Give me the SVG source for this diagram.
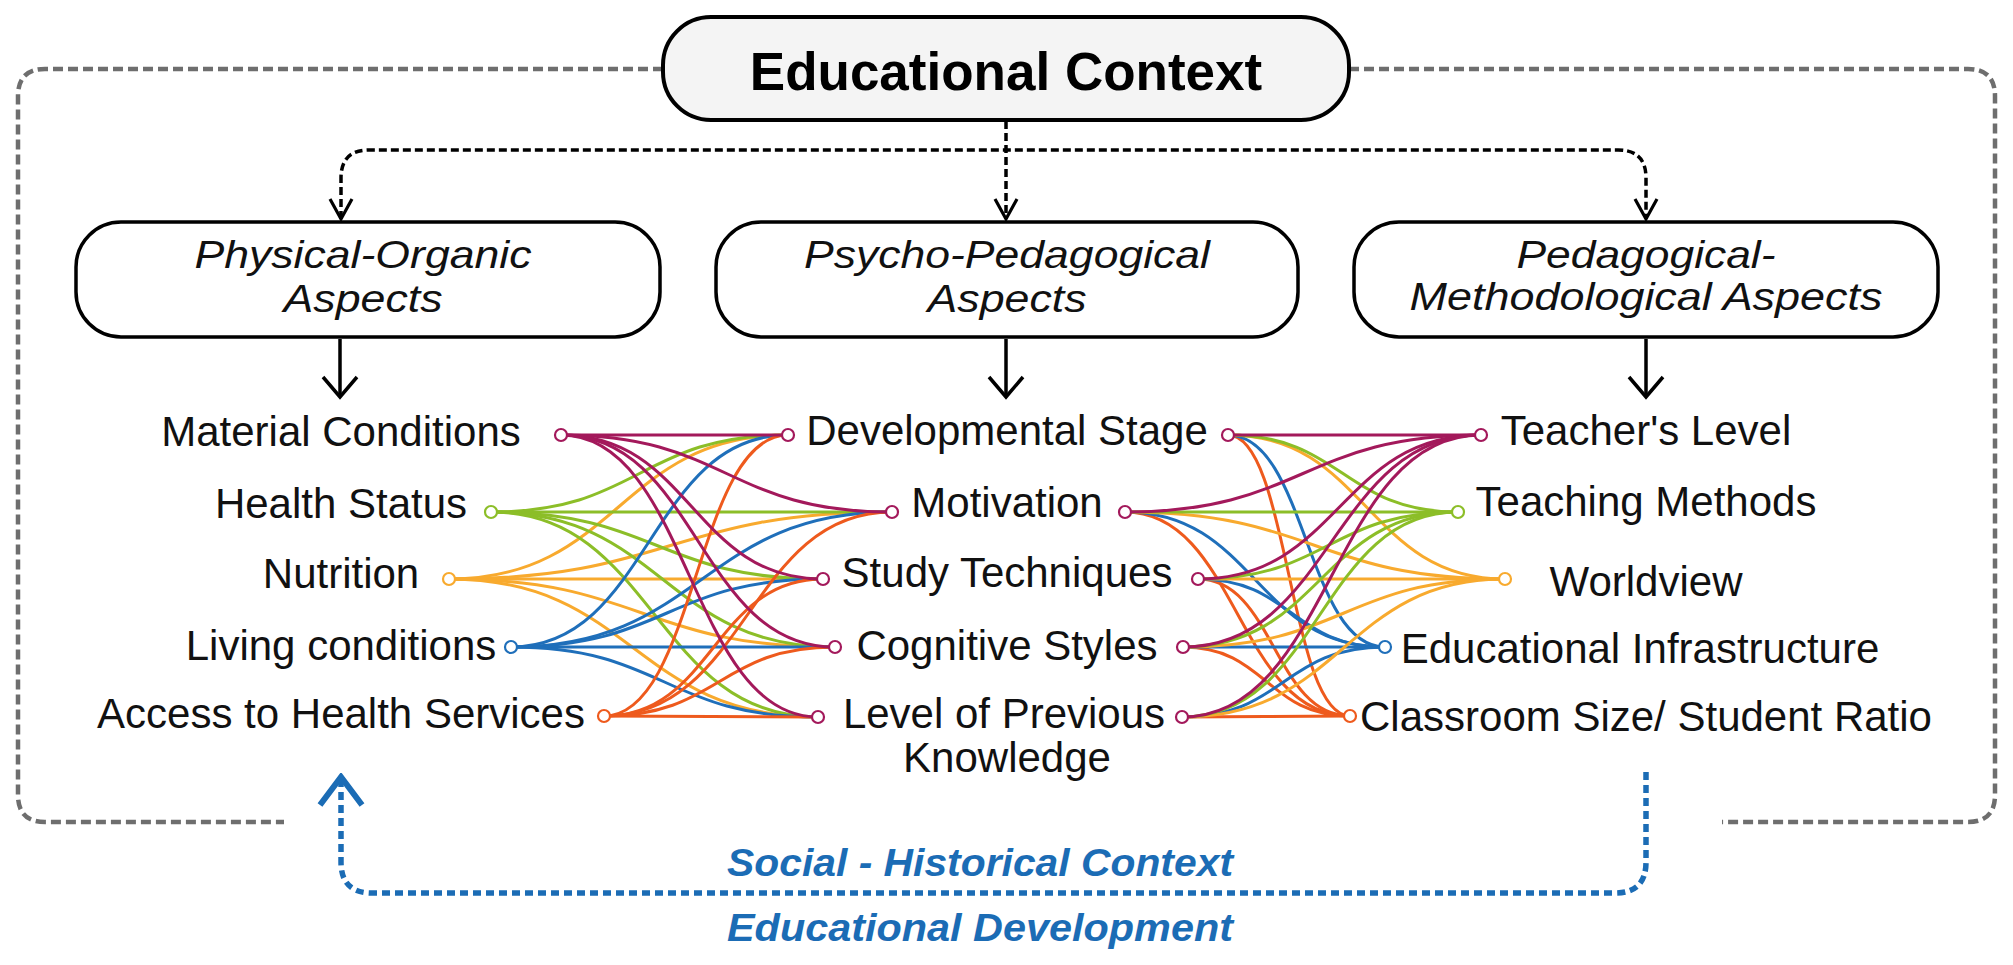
<svg xmlns="http://www.w3.org/2000/svg" width="2013" height="965" viewBox="0 0 2013 965">
<defs>
<style>
.t{font-family:"Liberation Sans",Arial,sans-serif;font-size:42px;fill:#111;text-anchor:middle}
.bx{fill:#fff;stroke:#000;stroke-width:3.5}
.it{font-family:"Liberation Sans",Arial,sans-serif;font-style:italic;font-size:39px;fill:#111;text-anchor:middle}
.bl{font-family:"Liberation Sans",Arial,sans-serif;font-style:italic;font-weight:bold;font-size:38px;fill:#1b6cb5;text-anchor:middle}
.frame{fill:none;stroke:#6e6e6e;stroke-width:4.5;stroke-dasharray:10 5}
.dot{fill:none;stroke:#000;stroke-width:3.5;stroke-dasharray:8 4}
.sol{fill:none;stroke:#000;stroke-width:3.5}
.blu{fill:none;stroke:#1b6cb5;stroke-width:5.5;stroke-dasharray:8 5}
.c path{fill:none;stroke-width:3}
.mg{stroke:#a3195b}.gr{stroke:#8cbe28}.or{stroke:#f8aa2e}.bu{stroke:#1f6fba}.rd{stroke:#ee5a1d}
.n{fill:#fff;stroke-width:2.2}
</style>
<marker id="ah" markerUnits="userSpaceOnUse" viewBox="-24 -20 28 40" markerWidth="28" markerHeight="40" refX="0" refY="0" orient="auto">
<path d="M-20,-17 L0,0 L-20,17" fill="none" stroke="#000" stroke-width="3.5"/>
</marker>
<marker id="ad" markerUnits="userSpaceOnUse" viewBox="-24 -14 28 28" markerWidth="28" markerHeight="28" refX="0" refY="0" orient="auto-start-reverse">
<path d="M-20,-11 L0,0 L-20,11" fill="none" stroke="#000" stroke-width="3.2"/>
</marker>
<marker id="ab" markerUnits="userSpaceOnUse" viewBox="-34 -28 38 56" markerWidth="38" markerHeight="56" refX="0" refY="0" orient="auto">
<path d="M-28,-21 L0,0 L-28,21" fill="none" stroke="#1b6cb5" stroke-width="6"/>
</marker>
</defs>

<g id="connectors">
<path class="frame" d="M663,69 H45 Q18,69 18,96 V795 Q18,822 45,822 H284"/>
<path class="frame" d="M1349,69 H1968 Q1995,69 1995,96 V795 Q1995,822 1968,822 H1722"/>
<path class="dot" d="M1006,121 V219" marker-end="url(#ad)"/>
<path class="dot" d="M341,219 V178 Q341,150 369,150 H1618 Q1646,150 1646,178 V219" marker-start="url(#ad)" marker-end="url(#ad)"/>
<path class="sol" d="M340,339 V397" marker-end="url(#ah)"/>
<path class="sol" d="M1006,339 V397" marker-end="url(#ah)"/>
<path class="sol" d="M1646,339 V397" marker-end="url(#ah)"/>
<path class="blu" d="M1646,772 V862 Q1646,893 1615,893 H372 Q341,893 341,862 V777" marker-end="url(#ab)"/>

<g class="c">
<path class="or" d="M449,579 C618.5,579 618.5,435 788,435"/>
<path class="or" d="M449,579 C670.5,579 670.5,512 892,512"/>
<path class="or" d="M449,579 C636,579 636,579 823,579"/>
<path class="or" d="M449,579 C642,579 642,647 835,647"/>
<path class="or" d="M449,579 C633.5,579 633.5,717 818,717"/>
<path class="gr" d="M491,512 C639.5,512 639.5,435 788,435"/>
<path class="gr" d="M491,512 C691.5,512 691.5,512 892,512"/>
<path class="gr" d="M491,512 C657,512 657,579 823,579"/>
<path class="gr" d="M491,512 C663,512 663,647 835,647"/>
<path class="gr" d="M491,512 C654.5,512 654.5,717 818,717"/>
<path class="bu" d="M511,647 C649.5,647 649.5,435 788,435"/>
<path class="bu" d="M511,647 C701.5,647 701.5,512 892,512"/>
<path class="bu" d="M511,647 C667,647 667,579 823,579"/>
<path class="bu" d="M511,647 C673,647 673,647 835,647"/>
<path class="bu" d="M511,647 C664.5,647 664.5,717 818,717"/>
<path class="rd" d="M604,716 C696,716 696,435 788,435"/>
<path class="rd" d="M604,716 C748,716 748,512 892,512"/>
<path class="rd" d="M604,716 C713.5,716 713.5,579 823,579"/>
<path class="rd" d="M604,716 C719.5,716 719.5,647 835,647"/>
<path class="rd" d="M604,716 C711,716 711,717 818,717"/>
<path class="mg" d="M561,435 C674.5,435 674.5,435 788,435"/>
<path class="mg" d="M561,435 C726.5,435 726.5,512 892,512"/>
<path class="mg" d="M561,435 C692,435 692,579 823,579"/>
<path class="mg" d="M561,435 C698,435 698,647 835,647"/>
<path class="mg" d="M561,435 C689.5,435 689.5,717 818,717"/>

<path class="rd" d="M1228,435 C1289,435 1289,716 1350,716"/>
<path class="rd" d="M1125,512 C1237.5,512 1237.5,716 1350,716"/>
<path class="rd" d="M1198,579 C1274,579 1274,716 1350,716"/>
<path class="rd" d="M1183,647 C1266.5,647 1266.5,716 1350,716"/>
<path class="rd" d="M1182,717 C1266,717 1266,716 1350,716"/>
<path class="bu" d="M1228,435 C1306.5,435 1306.5,647 1385,647"/>
<path class="bu" d="M1125,512 C1255,512 1255,647 1385,647"/>
<path class="bu" d="M1198,579 C1291.5,579 1291.5,647 1385,647"/>
<path class="bu" d="M1183,647 C1284,647 1284,647 1385,647"/>
<path class="bu" d="M1182,717 C1283.5,717 1283.5,647 1385,647"/>
<path class="or" d="M1228,435 C1366.5,435 1366.5,579 1505,579"/>
<path class="or" d="M1125,512 C1315,512 1315,579 1505,579"/>
<path class="or" d="M1198,579 C1351.5,579 1351.5,579 1505,579"/>
<path class="or" d="M1183,647 C1344,647 1344,579 1505,579"/>
<path class="or" d="M1182,717 C1343.5,717 1343.5,579 1505,579"/>
<path class="gr" d="M1228,435 C1343,435 1343,512 1458,512"/>
<path class="gr" d="M1125,512 C1291.5,512 1291.5,512 1458,512"/>
<path class="gr" d="M1198,579 C1328,579 1328,512 1458,512"/>
<path class="gr" d="M1183,647 C1320.5,647 1320.5,512 1458,512"/>
<path class="gr" d="M1182,717 C1320,717 1320,512 1458,512"/>
<path class="mg" d="M1228,435 C1354.5,435 1354.5,435 1481,435"/>
<path class="mg" d="M1125,512 C1303,512 1303,435 1481,435"/>
<path class="mg" d="M1198,579 C1339.5,579 1339.5,435 1481,435"/>
<path class="mg" d="M1183,647 C1332,647 1332,435 1481,435"/>
<path class="mg" d="M1182,717 C1331.5,717 1331.5,435 1481,435"/>
</g>
</g>

<g id="educational-context">
<rect x="663" y="17" width="686" height="103" rx="48" fill="#f4f4f4" stroke="#000" stroke-width="4"/>
<text x="1006" y="90" font-family="Liberation Sans, Arial, sans-serif" font-weight="bold" font-size="53" fill="#000" text-anchor="middle">Educational Context</text>
</g>

<g id="physical-organic">
<rect class="bx" x="76" y="222" width="584" height="115" rx="45"/>
<text class="it" x="363" y="268" textLength="337" lengthAdjust="spacingAndGlyphs">Physical-Organic</text>
<text class="it" x="363" y="312" textLength="159" lengthAdjust="spacingAndGlyphs">Aspects</text>
</g>
<g id="psycho-pedagogical">
<rect class="bx" x="716" y="222" width="582" height="115" rx="45"/>
<text class="it" x="1007" y="268" textLength="406" lengthAdjust="spacingAndGlyphs">Psycho-Pedagogical</text>
<text class="it" x="1007" y="312" textLength="159" lengthAdjust="spacingAndGlyphs">Aspects</text>
</g>
<g id="pedagogical-methodological">
<rect class="bx" x="1354" y="222" width="584" height="115" rx="45"/>
<text class="it" x="1646" y="268" textLength="259" lengthAdjust="spacingAndGlyphs">Pedagogical-</text>
<text class="it" x="1646" y="310" textLength="473" lengthAdjust="spacingAndGlyphs">Methodological Aspects</text>
</g>

<g id="material-conditions"><text class="t" x="341" y="446">Material Conditions</text><circle class="n mg" cx="561" cy="435" r="6"/></g>
<g id="health-status"><text class="t" x="341" y="518">Health Status</text><circle class="n gr" cx="491" cy="512" r="6"/></g>
<g id="nutrition"><text class="t" x="341" y="588">Nutrition</text><circle class="n or" cx="449" cy="579" r="6"/></g>
<g id="living-conditions"><text class="t" x="341" y="660">Living conditions</text><circle class="n bu" cx="511" cy="647" r="6"/></g>
<g id="access-health"><text class="t" x="341" y="728">Access to Health Services</text><circle class="n rd" cx="604" cy="716" r="6"/></g>

<g id="developmental-stage"><text class="t" x="1007" y="445">Developmental Stage</text><circle class="n mg" cx="788" cy="435" r="6"/><circle class="n mg" cx="1228" cy="435" r="6"/></g>
<g id="motivation"><text class="t" x="1007" y="517">Motivation</text><circle class="n mg" cx="892" cy="512" r="6"/><circle class="n mg" cx="1125" cy="512" r="6"/></g>
<g id="study-techniques"><text class="t" x="1007" y="587">Study Techniques</text><circle class="n mg" cx="823" cy="579" r="6"/><circle class="n mg" cx="1198" cy="579" r="6"/></g>
<g id="cognitive-styles"><text class="t" x="1007" y="660">Cognitive Styles</text><circle class="n mg" cx="835" cy="647" r="6"/><circle class="n mg" cx="1183" cy="647" r="6"/></g>
<g id="previous-knowledge"><text class="t" x="1004" y="728">Level of Previous</text><text class="t" x="1007" y="772">Knowledge</text><circle class="n mg" cx="818" cy="717" r="6"/><circle class="n mg" cx="1182" cy="717" r="6"/></g>

<g id="teachers-level"><text class="t" x="1646" y="445">Teacher's Level</text><circle class="n mg" cx="1481" cy="435" r="6"/></g>
<g id="teaching-methods"><text class="t" x="1646" y="516">Teaching Methods</text><circle class="n gr" cx="1458" cy="512" r="6"/></g>
<g id="worldview"><text class="t" x="1646" y="596">Worldview</text><circle class="n or" cx="1505" cy="579" r="6"/></g>
<g id="educational-infrastructure"><text class="t" x="1640" y="663">Educational Infrastructure</text><circle class="n bu" cx="1385" cy="647" r="6"/></g>
<g id="classroom-size"><text class="t" x="1646" y="731">Classroom Size/ Student Ratio</text><circle class="n rd" cx="1350" cy="716" r="6"/></g>

<g id="social-historical">
<text class="bl" x="980" y="876" textLength="506" lengthAdjust="spacingAndGlyphs">Social - Historical Context</text>
<text class="bl" x="980" y="941" textLength="506" lengthAdjust="spacingAndGlyphs">Educational Development</text>
</g>
</svg>
